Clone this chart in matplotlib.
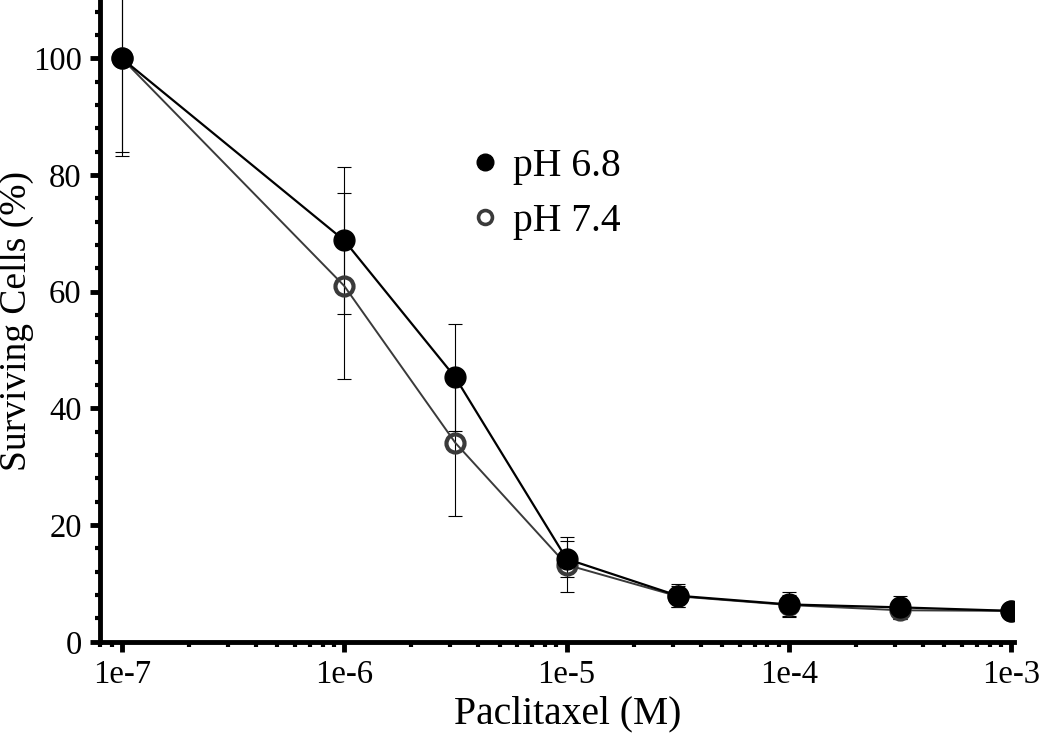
import matplotlib
matplotlib.use('Agg')
import matplotlib.pyplot as plt
from matplotlib.ticker import LogLocator, FixedLocator, MultipleLocator, FuncFormatter
from matplotlib.lines import Line2D

plt.rcParams['font.family'] = 'Liberation Serif'

# paclitaxel concentration (M)
conc = [1e-7, 1e-6, 3.16e-6, 1e-5, 3.16e-5, 1e-4, 3.16e-4, 1e-3]

# pH 6.8 (filled)
ph68 = [100, 68.8, 45.3, 14.2, 7.9, 6.4, 5.9, 5.3]
ph68_err = [16.0, 12.6, 9.2, 3.1, 2.0, 2.2, 2.0, 0.5]

# pH 7.4 (open)
ph74 = [100, 61.0, 34.1, 13.2, 7.8, 6.3, 5.4, 5.3]
ph74_err = [16.8, 16.0, 12.5, 4.7, 1.8, 1.8, 1.5, 0.5]

xticks = [1e-7, 1e-6, 1e-5, 1e-4, 1e-3]
xtick_labels = ['1e-7', '1e-6', '1e-5', '1e-4', '1e-3']

fig = plt.figure(figsize=(10.5, 7.36), dpi=100)
ax = fig.add_axes([0.095, 0.128, 0.871, 0.872])

# error bars (thin) first
ax.errorbar(conc, ph74, yerr=ph74_err, fmt='none', ecolor='black',
            elinewidth=0.8, capsize=5, capthick=0.8, zorder=1)
ax.errorbar(conc, ph68, yerr=ph68_err, fmt='none', ecolor='black',
            elinewidth=0.8, capsize=5, capthick=0.8, zorder=1)

# pH 7.4 first, filled series sits on top
ax.plot(conc, ph74, color='#3a3a3a', lw=1.4, marker='o', ms=13,
        mfc='none', mec='#3a3a3a', mew=3, zorder=2)
ax.plot(conc, ph68, color='black', lw=1.6, marker='o', ms=15,
        mfc='black', mec='black', zorder=3)

ax.set_xscale('log')
ax.set_xlim(7.96e-8, 1.03e-3)
ax.set_ylim(0, 110)

ax.xaxis.set_major_locator(FixedLocator(xticks))
ax.xaxis.set_major_formatter(FuncFormatter(lambda v, p: xtick_labels[xticks.index(v)] if v in xticks else ''))
ax.xaxis.set_minor_locator(LogLocator(base=10, subs=range(2, 10)))
ax.xaxis.set_minor_formatter(FuncFormatter(lambda v, p: ''))
ax.yaxis.set_major_locator(FixedLocator([0, 20, 40, 60, 80, 100]))
ax.yaxis.set_minor_locator(MultipleLocator(4))

for s in ['top', 'right']:
    ax.spines[s].set_visible(False)
for s in ['left', 'bottom']:
    ax.spines[s].set_linewidth(3.5)

ax.tick_params(axis='both', which='major', direction='out', length=7, width=3.5,
               labelsize=23.5, pad=6)
ax.tick_params(axis='both', which='minor', direction='out', length=3.5, width=3)

ax.set_xlabel('Paclitaxel (M)', fontsize=28.5)
ax.xaxis.set_label_coords(0.512, -0.083, transform=ax.transAxes)
ax.xaxis.label.set_va('top')
ax.set_ylabel('Surviving Cells (%)', fontsize=27, labelpad=-1)

handles = [Line2D([], [], ls='none', marker='o', ms=12, mfc='black', mec='black'),
           Line2D([], [], ls='none', marker='o', ms=10, mfc='none', mec='#3a3a3a', mew=2.6)]
ax.legend(handles, ['pH 6.8', 'pH 7.4'], loc='center left', bbox_to_anchor=(0.365, 0.698),
          frameon=False, fontsize=28.5, handletextpad=0.3, labelspacing=0.45,
          handlelength=0.8)

fig.savefig('out.png', dpi=100)
